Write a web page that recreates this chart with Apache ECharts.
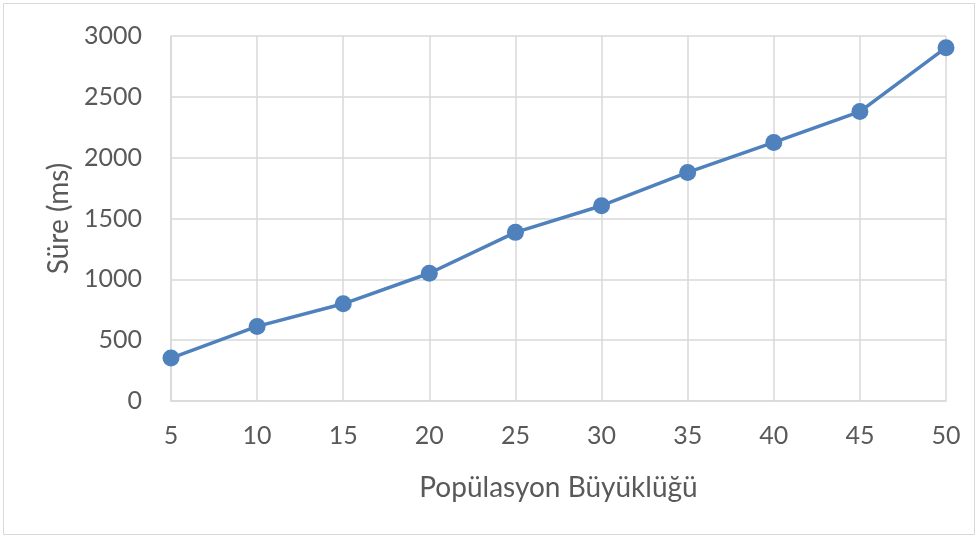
<!DOCTYPE html>
<html>
<head>
<meta charset="utf-8">
<script src="https://cdn.jsdelivr.net/npm/echarts@6/dist/echarts.min.js"></script>
<style>
  html, body { margin: 0; padding: 0; background: #fff; }
  #chart { width: 979px; height: 538px; }
</style>
</head>
<body>
<div id="chart"></div>
<script>
// Population size vs. run time
const populationSizes = [5, 10, 15, 20, 25, 30, 35, 40, 45, 50];
const durationsMs = [353, 613, 799, 1050, 1386, 1605, 1879, 2125, 2379, 2904];

const FONT = 'Lato, "Open Sans", sans-serif';
const TEXT = '#595959';
const GRID = '#d9d9d9';
const BLUE = '#4f81bd';

const chart = echarts.init(document.getElementById('chart'), null, { renderer: 'canvas' });
chart.setOption({
  animation: false,
  backgroundColor: '#fff',
  graphic: [{
    type: 'rect',
    shape: { x: 3.5, y: 3.5, width: 971, height: 531 },
    style: { fill: 'none', stroke: '#d9d9d9', lineWidth: 1 },
    silent: true
  }],
  grid: { left: 171, right: 33, top: 36, bottom: 137 },
  xAxis: {
    type: 'value',
    min: 5, max: 50, interval: 5,
    name: 'Popülasyon Büyüklüğü',
    nameLocation: 'middle',
    nameGap: 73,
    nameTextStyle: { color: TEXT, fontFamily: FONT, fontSize: 28 },
    axisLine: { show: true, lineStyle: { color: GRID, width: 1.5 } },
    axisTick: { show: false },
    axisLabel: { color: TEXT, fontFamily: FONT, fontSize: 25, margin: 22, formatter: v => String(v) },
    splitLine: { show: true, lineStyle: { color: GRID, width: 1.5 } }
  },
  yAxis: {
    type: 'value',
    min: 0, max: 3000, interval: 500,
    name: 'Süre (ms)',
    nameLocation: 'middle',
    nameGap: 98,
    nameRotate: 90,
    nameTextStyle: { color: TEXT, fontFamily: FONT, fontSize: 28 },
    axisLine: { show: true, lineStyle: { color: GRID, width: 1.5 } },
    axisTick: { show: false },
    axisLabel: { color: TEXT, fontFamily: FONT, fontSize: 25, margin: 29, formatter: v => String(v) },
    splitLine: { show: true, lineStyle: { color: GRID, width: 1.5 } }
  },
  series: [{
    type: 'line',
    data: populationSizes.map((p, i) => [p, durationsMs[i]]),
    symbol: 'circle',
    symbolSize: 17,
    lineStyle: { color: BLUE, width: 3.5 },
    itemStyle: { color: BLUE },
    z: 5
  }]
});
</script>
</body>
</html>
